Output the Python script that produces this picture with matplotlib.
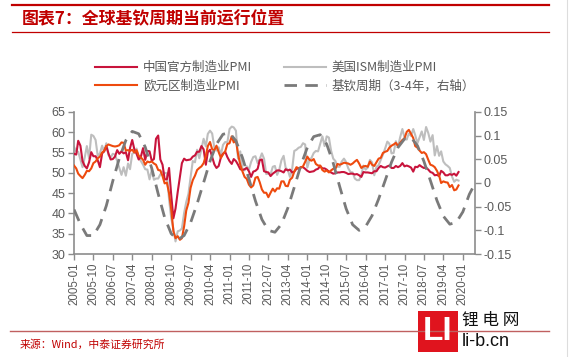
import numpy as np
import pandas as pd
import matplotlib
matplotlib.use("Agg")
import matplotlib.pyplot as plt
import matplotlib.dates as mdates
from matplotlib.patches import Rectangle
from matplotlib.lines import Line2D

plt.rcParams['font.family'] = ['Liberation Sans', 'Noto Sans CJK SC', 'DejaVu Sans']

# monthly PMI data, 2005-01 .. 2019-11
months = pd.date_range('2005-01-01', '2019-11-01', freq='MS')

china_pmi = [
    54.7, 54.5, 57.9, 56.7, 52.9, 51.7, 51.1, 52.6, 55.1, 54.1, 54.1, 53.1,
    51.4, 54.8, 55.3, 56.6, 54.8, 53.3, 53.4, 54.0, 55.6, 54.7, 55.3, 54.8,
    55.1, 53.1, 56.1, 58.1, 55.8, 54.7, 53.3, 54.0, 56.1, 53.2, 55.4, 55.3,
    53.0, 53.4, 58.4, 59.2, 53.3, 52.0, 48.4, 48.4, 51.2, 44.6, 38.8, 41.2,
    45.3, 49.0, 52.4, 53.5, 53.1, 53.2, 53.3, 54.0, 54.3, 55.2, 55.2, 56.6,
    55.8, 52.0, 55.1, 55.7, 53.9, 52.1, 51.2, 51.7, 53.8, 54.7, 55.2, 53.9,
    52.9, 52.2, 53.4, 52.9, 52.0, 50.9, 50.7, 50.9, 51.2, 50.4, 49.0, 50.3,
    50.5, 51.0, 53.1, 53.3, 50.4, 50.2, 50.1, 49.2, 49.8, 50.2, 50.6, 50.6,
    50.4, 50.1, 50.9, 50.6, 50.8, 50.1, 50.3, 51.0, 51.1, 51.4, 51.4, 51.0,
    50.5, 50.2, 50.3, 50.4, 50.8, 51.0, 51.7, 51.1, 51.1, 50.8, 50.3, 50.1,
    49.8, 49.9, 50.1, 50.1, 50.2, 50.2, 50.0, 49.7, 49.8, 49.8, 49.6, 49.7,
    49.4, 49.0, 50.2, 50.1, 50.1, 50.0, 49.9, 50.4, 50.4, 51.2, 51.7, 51.4,
    51.3, 51.6, 51.8, 51.2, 51.2, 51.7, 51.4, 51.7, 52.4, 51.6, 51.8, 51.6,
    51.3, 50.3, 51.5, 51.4, 51.9, 51.5, 51.2, 51.3, 50.8, 50.2, 50.0, 49.4,
    49.5, 49.2, 50.5, 50.1, 49.4, 49.4, 49.7, 49.5, 49.8, 49.3, 50.2,
]

us_ism_pmi = [
    56.4, 55.3, 55.2, 53.3, 51.4, 53.8, 56.6, 53.6, 59.4, 59.1, 58.1, 54.2,
    54.8, 56.7, 55.2, 57.3, 54.4, 53.8, 54.7, 54.5, 52.9, 51.2, 49.5, 51.4,
    49.3, 52.3, 50.9, 54.7, 55.0, 56.0, 53.8, 52.9, 52.0, 50.9, 50.8, 48.4,
    50.7, 48.3, 48.6, 48.6, 49.6, 50.2, 50.0, 49.9, 43.5, 38.9, 36.2, 33.1,
    35.6, 35.8, 36.3, 40.1, 42.8, 44.8, 48.9, 52.9, 52.6, 55.7, 53.6, 55.9,
    58.4, 56.5, 59.6, 60.4, 59.7, 56.2, 55.5, 56.3, 54.4, 56.9, 57.6, 57.5,
    60.8, 61.4, 61.2, 60.4, 53.5, 55.3, 50.9, 50.6, 51.6, 50.8, 52.7, 53.9,
    54.1, 52.4, 53.4, 54.8, 53.5, 49.7, 49.8, 49.6, 51.5, 51.7, 49.5, 50.7,
    53.1, 54.2, 51.3, 50.7, 49.0, 50.9, 55.4, 55.7, 56.2, 56.4, 57.3, 57.0,
    51.3, 53.2, 53.7, 54.9, 55.4, 55.3, 57.1, 59.0, 56.6, 59.0, 58.7, 55.5,
    53.5, 52.9, 51.5, 51.5, 52.8, 53.5, 52.7, 51.1, 50.2, 50.1, 48.6, 48.2,
    48.2, 49.5, 51.8, 50.8, 51.3, 53.2, 52.6, 49.4, 51.5, 51.9, 53.2, 54.5,
    56.0, 57.7, 57.2, 54.8, 54.9, 57.8, 56.3, 58.8, 60.8, 58.7, 58.2, 59.7,
    59.1, 60.8, 59.3, 57.3, 58.7, 60.2, 58.1, 61.3, 59.8, 57.7, 59.3, 54.3,
    56.6, 54.2, 55.3, 52.8, 52.1, 51.7, 51.2, 49.1, 47.8, 48.3, 48.1,
]

euro_pmi = [
    51.8, 51.1, 49.8, 49.2, 48.7, 49.5, 50.5, 50.4, 51.1, 52.4, 52.8, 53.6,
    54.0, 55.0, 55.4, 56.6, 57.0, 56.8, 56.6, 56.5, 56.6, 56.8, 57.5, 57.4,
    55.5, 55.6, 55.4, 55.7, 55.0, 55.6, 54.2, 53.8, 53.2, 52.0, 52.8, 52.6,
    52.8, 52.3, 52.0, 50.7, 50.6, 49.2, 47.4, 47.6, 45.0, 41.1, 35.6, 33.9,
    34.4, 33.5, 33.9, 36.8, 40.7, 42.6, 46.3, 48.2, 49.3, 50.7, 51.2, 51.6,
    52.4, 54.2, 56.6, 57.6, 55.8, 55.6, 56.7, 55.1, 53.7, 54.6, 55.3, 57.1,
    57.3, 59.0, 57.5, 58.0, 54.6, 52.0, 50.4, 49.0, 48.5, 47.1, 46.4, 46.9,
    48.8, 49.0, 47.7, 45.9, 45.1, 45.1, 44.0, 45.1, 46.1, 45.4, 46.2, 46.1,
    47.9, 47.9, 46.8, 46.7, 48.3, 48.8, 50.3, 51.4, 51.1, 51.3, 51.6, 52.7,
    54.0, 53.2, 53.0, 53.4, 52.2, 51.8, 51.8, 50.7, 50.3, 50.6, 50.1, 50.6,
    51.0, 51.0, 52.2, 52.0, 52.2, 52.5, 52.4, 52.3, 52.0, 52.3, 52.8, 53.2,
    52.3, 51.2, 51.6, 51.7, 51.5, 52.8, 52.0, 51.7, 52.6, 53.5, 53.7, 54.9,
    55.2, 55.4, 56.2, 56.7, 57.0, 57.4, 56.6, 57.4, 58.1, 58.5, 60.1, 60.6,
    59.6, 58.6, 56.6, 56.2, 55.5, 54.9, 55.1, 54.6, 53.2, 52.0, 51.8, 51.4,
    50.5, 49.3, 47.5, 47.9, 47.7, 47.6, 46.5, 47.0, 45.7, 45.9, 46.9,
]

cycle_dates = pd.date_range('2005-01-01', '2020-07-01', freq='QS')
kitchin_cycle = [
    -0.056, -0.087, -0.111, -0.111, -0.088, -0.048, 0.004, 0.052, 0.090, 0.109,
    0.104, 0.076, 0.031, -0.023, -0.073, -0.107, -0.120, -0.111, -0.084, -0.044,
    0.001, 0.046, 0.082, 0.103, 0.106, 0.089, 0.054, 0.009, -0.038, -0.077,
    -0.100, -0.104, -0.087, -0.053, -0.009, 0.037, 0.075, 0.098, 0.102, 0.082,
    0.042, -0.007, -0.054, -0.088, -0.100, -0.092, -0.069, -0.034, 0.005, 0.044,
    0.075, 0.093, 0.096, 0.079, 0.046, 0.005, -0.037, -0.070, -0.087, -0.083,
    -0.061, -0.024, 0.002,
]

tick_dates = pd.date_range('2005-01-01', '2020-01-01', freq='9MS')

RED = '#C8143C'
ORANGE = '#EE4A0E'
LGREY = '#BEBEBE'
DGREY = '#7A7A7A'
AXCOL = '#8C8C8C'
TXT = '#595959'
TITLE_RED = '#C00000'

fig = plt.figure(figsize=(5.72, 3.57), dpi=100)
ax = fig.add_axes([0.1294, 0.2885, 0.701, 0.3978])
ax2 = ax.twinx()

ax.plot(months, us_ism_pmi, color=LGREY, lw=1.5, zorder=2)
ax.plot(months, china_pmi, color=RED, lw=1.5, zorder=3)
ax.plot(months, euro_pmi, color=ORANGE, lw=1.5, zorder=4)
ax2.plot(cycle_dates, kitchin_cycle, color=DGREY, lw=2.0, dashes=(4.5, 3.0))

ax.set_xlim(pd.Timestamp('2005-01-01'), pd.Timestamp('2020-06-20'))
ax.set_ylim(30, 65)
ax.set_yticks(range(30, 66, 5))
ax2.set_ylim(-0.15, 0.15)
ax2.set_yticks([-0.15, -0.1, -0.05, 0, 0.05, 0.1, 0.15])
ax2.set_yticklabels(['-0.15', '-0.1', '-0.05', '0', '0.05', '0.1', '0.15'])

ax.set_xticks(tick_dates)
ax.xaxis.set_major_formatter(mdates.DateFormatter('%Y-%m'))

for a in (ax, ax2):
    a.spines['top'].set_visible(False)
    for s in ('left', 'right', 'bottom'):
        a.spines[s].set_color(AXCOL)
        a.spines[s].set_linewidth(1.2)
    a.tick_params(colors=AXCOL, labelcolor=TXT, length=4, width=1.0, labelsize=9)
ax.spines['right'].set_visible(False)
ax2.spines['left'].set_visible(False)
ax2.spines['bottom'].set_visible(False)
ax.tick_params(axis='x', labelrotation=90, labelsize=8.3, pad=2)
ax.tick_params(axis='y', pad=2)
ax2.tick_params(axis='y', pad=2)

# legend
handles = [
    Line2D([], [], color=RED, lw=1.5),
    Line2D([], [], color=ORANGE, lw=1.5),
    Line2D([], [], color=LGREY, lw=1.5),
    Line2D([], [], color=DGREY, lw=2.0, dashes=(4.5, 3.0)),
]
labels = ['中国官方制造业PMI', '欧元区制造业PMI', '美国ISM制造业PMI', '基钦周期（3-4年，右轴）']
fig.legend(handles, labels, ncol=2, loc='upper left', bbox_to_anchor=(0.147, 0.86),
           frameon=False, handlelength=3.3, handletextpad=0.5, columnspacing=2.6,
           labelspacing=0.45, labelcolor=TXT,
           prop={'family': ['Noto Sans CJK SC', 'DejaVu Sans'], 'size': 9})

# title block
fig.add_artist(Line2D([12 / 572, 549 / 572], [1 - 5 / 357, 1 - 5 / 357], color=TITLE_RED, lw=1.6))
fig.add_artist(Line2D([12 / 572, 549 / 572], [1 - 32 / 357, 1 - 32 / 357], color=TITLE_RED, lw=0.9))
fig.text(22 / 572, 1 - 18.5 / 357, '图表7：全球基钦周期当前运行位置', color=TITLE_RED,
         fontsize=12.2, fontweight='bold', va='center', ha='left',
         family=['Noto Sans CJK SC', 'DejaVu Sans'])

# source
fig.add_artist(Line2D([10 / 572, 549 / 572], [1 - 331 / 357, 1 - 331 / 357], color='#C06060', lw=1.0))
fig.text(20 / 572, 1 - 345 / 357, '来源：Wind，中泰证券研究所', color=TITLE_RED,
         fontsize=7.8, va='center', ha='left', family=['Noto Sans CJK SC', 'DejaVu Sans'])

# right border
fig.add_artist(Line2D([567 / 572, 567 / 572], [0, 1], color='#DDDDDD', lw=0.8))

# watermark
fig.add_artist(Rectangle((418 / 572, 1 - 352 / 357), 40 / 572, 41 / 357,
                         transform=fig.transFigure, facecolor='#E0141E', edgecolor='none'))
fig.text(438 / 572, 1 - 332 / 357, 'LI', color='white', fontsize=24, fontweight='bold',
         ha='center', va='center', family='Liberation Sans')
fig.text(462 / 572, 1 - 320 / 357, '锂 电 网', color='#111111', fontsize=12,
         ha='left', va='center', family=['Noto Sans CJK SC', 'DejaVu Sans'])
fig.text(462 / 572, 1 - 342 / 357, 'li-b.cn', color='#111111', fontsize=13,
         ha='left', va='center', family='Liberation Sans')

fig.savefig('out.png', dpi=100)
